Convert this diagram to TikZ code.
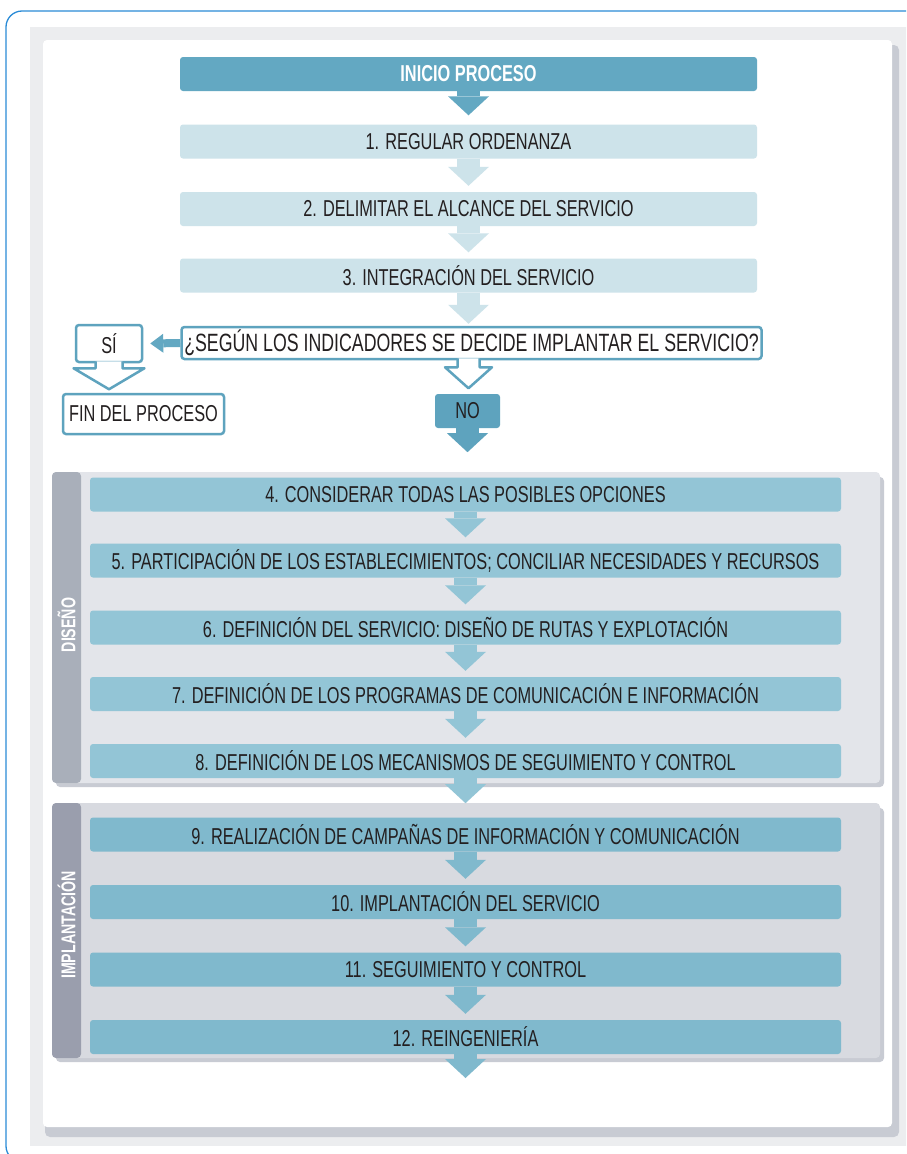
\documentclass[tikz,border=0pt]{standalone}
\usepackage{fontspec}
\setmainfont{Liberation Sans}[FakeStretch=0.71]
\usetikzlibrary{arrows.meta,calc}

\definecolor{frameblue}{HTML}{2A8BD6}
\definecolor{outgray}{HTML}{ECEDEF}
\definecolor{shadowgray}{HTML}{C8CBD3}
\definecolor{darkblue}{HTML}{63A8C2}
\definecolor{paleblue}{HTML}{CDE3EA}
\definecolor{lineblue}{HTML}{5EA3BE}
\definecolor{midblue}{HTML}{93C5D6}
\definecolor{deepblue}{HTML}{80B9CD}
\definecolor{panelA}{HTML}{E3E5EA}
\definecolor{panelB}{HTML}{D8DAE0}
\definecolor{barA}{HTML}{A9AFBA}
\definecolor{barB}{HTML}{9A9EAD}
\definecolor{inktext}{HTML}{231F20}

\newcommand{\boxfont}{\fontsize{23}{26}\selectfont}

\tikzset{
  stepbox/.style={rounded corners=3pt, minimum height=34pt, inner sep=0pt,
    text=inktext, font=\boxfont},
  topbox/.style={stepbox, minimum width=577pt},
  panelbox/.style={stepbox, minimum width=751pt},
  outlinebox/.style={stepbox, fill=white, draw=lineblue, line width=2.5pt},
  outarrow/.style={fill=white, draw=lineblue, line width=2.5pt, line join=round},
  barlabel/.style={text=white, inner sep=0pt, font=\bfseries\fontsize{20}{22}\selectfont},
  flow/.style={line width=23pt, -{Triangle[width=41pt,length=19pt,line width=0pt]}},
}

\begin{document}
\begin{tikzpicture}[x=1pt,y=-1pt]
\useasboundingbox (0,0) rectangle (906,1154);
\clip (0,0) rectangle (906,1154);
\fill[outgray] (30,27) rectangle (930,1146);
\fill[shadowgray, rounded corners=5pt] (45,45) rectangle (899,1137);
\fill[white, rounded corners=4pt] (43,40) rectangle (892,1127);
\draw[frameblue, line width=1.3pt, rounded corners=16pt] (930,1162) -- (6,1162) -- (6,11) -- (930,11);

\node[topbox, fill=darkblue, text=white, font=\bfseries\boxfont] (inicio) at (468.5,74) {INICIO PROCESO};
\node[topbox, fill=paleblue] (ordenanza) at (468.5,141.5) {1. REGULAR ORDENANZA};
\node[topbox, fill=paleblue] (alcance) at (468.5,209) {2. DELIMITAR EL ALCANCE DEL SERVICIO};
\node[topbox, fill=paleblue] (integracion) at (468.5,275.5) {3. INTEGRACIÓN DEL SERVICIO};
\node[outlinebox, minimum width=580pt, minimum height=32pt, font=\fontsize{25}{28}\selectfont] (decide) at (471.5,343) {¿SEGÚN LOS INDICADORES SE DECIDE IMPLANTAR EL SERVICIO?};
\node[outlinebox, minimum width=66pt, minimum height=37pt] (si) at (109,343.5) {SÍ};
\node[outlinebox, minimum width=161pt, minimum height=40pt] (fin) at (143.5,414) {FIN DEL PROCESO};
\node[stepbox, fill=lineblue, minimum width=65pt] (no) at (467.5,411) {NO};

\draw[flow, darkblue] (inicio.south) -- ([yshift=9pt]ordenanza.north);
\draw[flow, paleblue] (ordenanza.south) -- ([yshift=6pt]alcance.north);
\draw[flow, paleblue] (alcance.south) -- ([yshift=6pt]integracion.north);
\draw[flow, paleblue] (integracion.south) -- ([yshift=2pt]integracion.south |- decide.north);
\draw[line width=8pt, darkblue, -{Triangle[width=19pt,length=13pt,line width=0pt]}] (decide.west) -- ([xshift=7pt]si.east);
\filldraw[outarrow] ($(decide.south -| inicio.south)+(-11,-2)$) -- ++(0,9) -- ++(-12.5,0) -- ++(23.5,21) -- ++(23.5,-21) -- ++(-12.5,0) -- ++(0,-9);
\filldraw[outarrow] ($(si.south)+(-13.5,-2)$) -- ++(0,7) -- ++(-22,0) -- ++(35.5,21) -- ++(35.5,-21) -- ++(-22,0) -- ++(0,-7);
\draw[flow, lineblue] (no.south) -- ++(0,24);

\fill[shadowgray, rounded corners=4pt] (56,477) rectangle (884,787);
\fill[panelA, rounded corners=4pt] (52,472) rectangle (880,783);
\fill[barA, rounded corners=4pt] (52,472) rectangle (81,783);
\node[barlabel, rotate=90] (diseno) at (66.5,625) {DISEÑO};

\node[panelbox, fill=midblue] (opciones) at (465.5,494.5) {4. CONSIDERAR TODAS LAS POSIBLES OPCIONES};
\node[panelbox, fill=midblue] (participacion) at (465.5,560.5) {5. PARTICIPACIÓN DE LOS ESTABLECIMIENTOS; CONCILIAR NECESIDADES Y RECURSOS};
\node[panelbox, fill=midblue] (definicion) at (465.5,627.5) {6. DEFINICIÓN DEL SERVICIO: DISEÑO DE RUTAS Y EXPLOTACIÓN};
\node[panelbox, fill=midblue] (programas) at (465.5,694) {7. DEFINICIÓN DE LOS PROGRAMAS DE COMUNICACIÓN E INFORMACIÓN};
\node[panelbox, fill=midblue] (mecanismos) at (465.5,761) {8. DEFINICIÓN DE LOS MECANISMOS DE SEGUIMIENTO Y CONTROL};

\draw[flow, midblue] (opciones.south) -- ([yshift=6pt]participacion.north);
\draw[flow, midblue] (participacion.south) -- ([yshift=6pt]definicion.north);
\draw[flow, midblue] (definicion.south) -- ([yshift=6pt]programas.north);
\draw[flow, midblue] (programas.south) -- ([yshift=6pt]mecanismos.north);

\fill[shadowgray, rounded corners=4pt] (56,808) rectangle (884,1062);
\fill[panelB, rounded corners=4pt] (52,803) rectangle (880,1058);
\fill[barB, rounded corners=4pt] (52,803) rectangle (81,1058);
\node[barlabel, rotate=90] (implanta) at (66.5,925) {IMPLANTACIÓN};

\draw[flow, midblue] (mecanismos.south) -- ++(0,25);

\node[panelbox, fill=deepblue] (campanas) at (465.5,834.5) {9. REALIZACIÓN DE CAMPAÑAS DE INFORMACIÓN Y COMUNICACIÓN};
\node[panelbox, fill=deepblue] (servicio) at (465.5,902) {10. IMPLANTACIÓN DEL SERVICIO};
\node[panelbox, fill=deepblue] (seguimiento) at (465.5,969.5) {11. SEGUIMIENTO Y CONTROL};
\node[panelbox, fill=deepblue] (reingenieria) at (465.5,1037) {12. REINGENIERÍA};

\draw[flow, deepblue] (campanas.south) -- ([yshift=6pt]servicio.north);
\draw[flow, deepblue] (servicio.south) -- ([yshift=6pt]seguimiento.north);
\draw[flow, deepblue] (seguimiento.south) -- ([yshift=6pt]reingenieria.north);
\coordinate (salida) at (465.5,1078);
\draw[flow, deepblue] (reingenieria.south) -- (salida);
\end{tikzpicture}
\end{document}
